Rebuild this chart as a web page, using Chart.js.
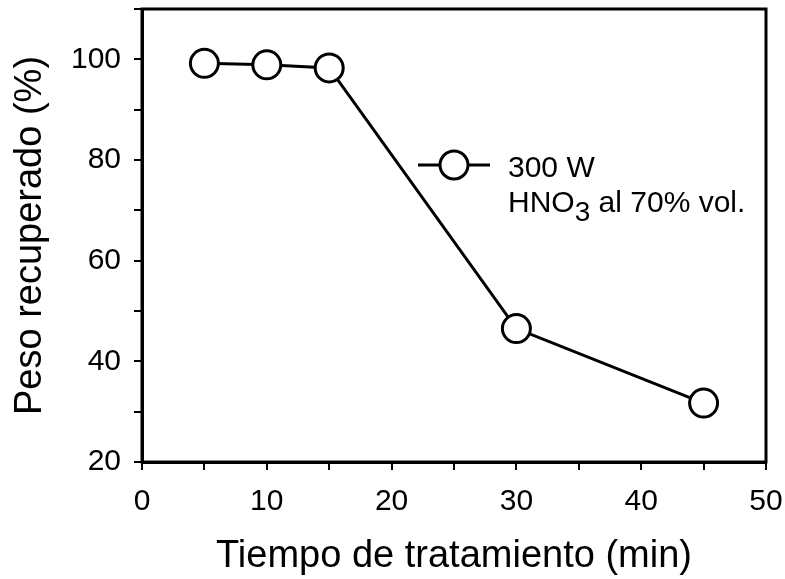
<!DOCTYPE html>
<html>
<head>
<meta charset="utf-8">
<script src="https://cdn.jsdelivr.net/npm/chart.js@4"></script>
<style>
  html, body { margin: 0; padding: 0; background: #fff; }
</style>
</head>
<body>
<canvas id="myChart" width="785" height="579"></canvas>
<script>
// 処理時間と回収重量
const tiempo = [5, 10, 15, 30, 45];
const peso = [99.2, 98.9, 98.3, 46.5, 31.7];
const xTicks = [0, 10, 20, 30, 40, 50];
const yTicks = [20, 40, 60, 80, 100];

const FONT = '"Liberation Sans", Arial, sans-serif';

// 枠線（上と右も閉じる）
const framePlugin = {
    id: 'frame',
    afterDraw(chart) {
        const { ctx, chartArea: a } = chart;
        ctx.save();
        ctx.strokeStyle = '#000';
        ctx.lineWidth = 3;
        ctx.strokeRect(a.left, a.top, a.right - a.left, a.bottom - a.top);
        ctx.restore();
    }
};

// 凡例（線＋白丸＋2行のテキスト）
const legendPlugin = {
    id: 'sampleLegend',
    afterDraw(chart) {
        const { ctx, scales } = chart;
        const cx = scales.x.getPixelForValue(25);
        const cy = scales.y.getPixelForValue(79);
        ctx.save();
        ctx.strokeStyle = '#000';
        ctx.lineWidth = 3;
        ctx.beginPath();
        ctx.moveTo(cx - 36, cy);
        ctx.lineTo(cx + 36, cy);
        ctx.stroke();
        ctx.beginPath();
        ctx.arc(cx, cy, 14, 0, Math.PI * 2);
        ctx.fillStyle = '#fff';
        ctx.fill();
        ctx.stroke();

        ctx.fillStyle = '#000';
        ctx.textBaseline = 'alphabetic';
        ctx.font = '30px ' + FONT;
        const tx = cx + 54;
        ctx.fillText('300 W', tx, cy + 12);
        const by = cy + 47;
        let x = tx;
        ctx.fillText('HNO', x, by);
        x += ctx.measureText('HNO').width;
        ctx.font = '28px ' + FONT;
        ctx.fillText('3', x, by + 9);
        x += ctx.measureText('3').width;
        ctx.font = '30px ' + FONT;
        ctx.fillText(' al 70% vol.', x, by);
        ctx.restore();
    }
};

function drawChart() {
    const ctx = document.getElementById('myChart').getContext('2d');

    const data = {
        datasets: [{
            label: '300 W HNO3 al 70% vol.',
            data: tiempo.map((t, i) => ({ x: t, y: peso[i] })),
            borderColor: '#000',
            borderWidth: 3,
            pointRadius: 14,
            pointBorderWidth: 3,
            pointBackgroundColor: '#fff',
            pointBorderColor: '#000',
            tension: 0,
            showLine: true
        }]
    };

    const config = {
        type: 'scatter',
        data: data,
        options: {
            responsive: false,
            animation: false,
            events: [],
            layout: {
                autoPadding: false,
                padding: { top: 9, right: 19, left: 8, bottom: 0 }
            },
            plugins: {
                legend: { display: false },
                tooltip: { enabled: false }
            },
            scales: {
                x: {
                    type: 'linear',
                    min: 0,
                    max: 50,
                    // 軸の高さを固定し、端のラベル分の余白は取らない
                    afterFit(scale) {
                        scale.height = 117;
                        scale.paddingLeft = 0;
                        scale.paddingRight = 0;
                    },
                    ticks: {
                        stepSize: 5,
                        color: '#000',
                        font: { family: FONT, size: 30 },
                        padding: 14,
                        maxRotation: 0,
                        callback: v => xTicks.includes(v) ? String(v) : ''
                    },
                    grid: {
                        drawOnChartArea: false,
                        color: '#000',
                        lineWidth: 2,
                        tickLength: 8
                    },
                    border: { color: '#000', width: 3 },
                    title: {
                        display: true,
                        text: 'Tiempo de tratamiento (min)',
                        color: '#000',
                        font: { family: FONT, size: 38 },
                        padding: { top: 14, bottom: 0 }
                    }
                },
                y: {
                    min: 20,
                    max: 110,
                    afterFit(scale) {
                        scale.width = 134;
                        scale.paddingTop = 0;
                        scale.paddingBottom = 0;
                    },
                    ticks: {
                        stepSize: 10,
                        color: '#000',
                        font: { family: FONT, size: 30 },
                        padding: 13,
                        callback: v => yTicks.includes(v) ? String(v) : ''
                    },
                    grid: {
                        drawOnChartArea: false,
                        color: '#000',
                        lineWidth: 2,
                        tickLength: 8
                    },
                    border: { color: '#000', width: 3 },
                    title: {
                        display: true,
                        text: 'Peso recuperado (%)',
                        color: '#000',
                        font: { family: FONT, size: 38 },
                        padding: { top: 0, bottom: 14 }
                    }
                }
            }
        },
        plugins: [framePlugin, legendPlugin]
    };

    new Chart(ctx, config);
}

window.onload = drawChart;
</script>
</body>
</html>
